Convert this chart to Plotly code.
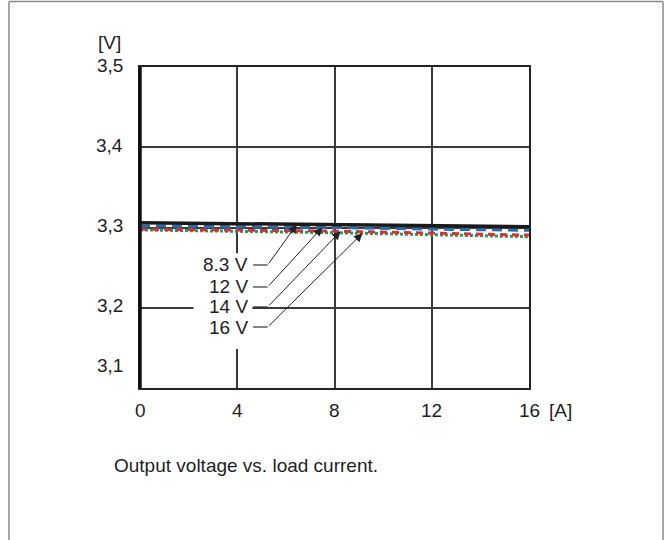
import numpy as np
import plotly.graph_objects as go

# ---- data ----
current_A = [0, 4, 8, 12, 16]
v_83 = [3.306, 3.305, 3.303, 3.302, 3.301]
v_12 = [3.302, 3.301, 3.300, 3.298, 3.2965]
v_14 = [3.298, 3.297, 3.2955, 3.293, 3.2905]
v_16 = [3.297, 3.2955, 3.2935, 3.291, 3.2885]

series_names = ["8.3 V", "12 V", "14 V", "16 V"]
x_ticks = [0, 4, 8, 12, 16]
x_tick_labels = ["0", "4", "8", "12", "16"]
y_ticks = [3.1, 3.2, 3.3, 3.4, 3.5]
y_tick_labels = ["3,1", "3,2", "3,3", "3,4", "3,5"]
arrow_tip_x = [6.45, 7.5, 8.25, 9.15]
label_y = [3.2533, 3.2259, 3.2010, 3.1760]

W, H = 665, 540
L, R, T, B = 140, 529, 67, 388  # plot area in page pixels
FONT = "Liberation Sans, Arial, Helvetica, sans-serif"
FS = 19
TXT = "#1e1e1e"


def px(xp):
    return (xp - L) / (R - L)


def py(yp):
    return (B - yp) / (B - T)


fig = go.Figure()

series = [v_83, v_12, v_14, v_16]
styles = [
    dict(color="#1a1a1a", width=3.5, dash="solid"),
    dict(color="#1f6fb8", width=3, dash="10px,6px"),
    dict(color="#e52b2b", width=3, dash="7px,5px"),
    dict(color="#1aa058", width=3, dash="3px,2px"),
]
order = [3, 2, 1, 0]
for i in order:
    fig.add_trace(go.Scatter(x=current_A, y=series[i], mode="lines",
                             line=styles[i], name=series_names[i],
                             hoverinfo="skip"))

shapes = []
annotations = []

# white box behind labels
shapes.append(dict(type="rect", xref="x", yref="y", x0=2.2, x1=4.62,
                   y0=3.1486, y1=3.268, fillcolor="white",
                   line=dict(width=0), layer="between"))

# labels, leader segments, arrows
for i, name in enumerate(series_names):
    ly = label_y[i]
    annotations.append(dict(x=4.52, y=ly, xref="x", yref="y", text=name,
                            showarrow=False, xanchor="right", yanchor="middle",
                            font=dict(family=FONT, size=FS, color=TXT)))
    shapes.append(dict(type="line", xref="x", yref="y", x0=4.65, x1=5.25,
                       y0=ly, y1=ly, line=dict(color="#333", width=1.2),
                       layer="above"))
    tip_y = float(np.interp(arrow_tip_x[i], current_A, series[i]))
    annotations.append(dict(x=arrow_tip_x[i], y=tip_y, xref="x", yref="y",
                            ax=5.25, ay=ly, axref="x", ayref="y", text="",
                            showarrow=True, arrowhead=2, arrowsize=1.7,
                            arrowwidth=1, arrowcolor="#222", standoff=0))

# thick left axis
shapes.append(dict(type="line", xref="paper", yref="paper", x0=0, x1=0,
                   y0=0, y1=1, line=dict(color="#111", width=3.5),
                   layer="above"))

# outer frame (left, top, right edges)
frame_line = dict(color="#8a8a8a", width=1.5)
shapes.append(dict(type="line", xref="paper", yref="paper",
                   x0=px(9), x1=px(9), y0=py(540), y1=py(1.5),
                   line=frame_line, layer="below"))
shapes.append(dict(type="line", xref="paper", yref="paper",
                   x0=px(9), x1=px(663), y0=py(1.5), y1=py(1.5),
                   line=frame_line, layer="below"))
shapes.append(dict(type="line", xref="paper", yref="paper",
                   x0=px(663), x1=px(663), y0=py(540), y1=py(1.5),
                   line=frame_line, layer="below"))

# tick labels
for v, t in zip(x_ticks, x_tick_labels):
    annotations.append(dict(x=v, y=py(411), xref="x", yref="paper", text=t,
                            showarrow=False, xanchor="center",
                            yanchor="middle",
                            font=dict(family=FONT, size=FS, color=TXT)))
for v, t in zip(y_ticks, y_tick_labels):
    annotations.append(dict(x=px(125), y=v, xref="paper", yref="y", text=t,
                            showarrow=False, xanchor="right",
                            yanchor="middle",
                            yshift=23 if v == y_ticks[0] else 2,
                            font=dict(family=FONT, size=FS, color=TXT)))

annotations.append(dict(x=px(560), y=py(411), xref="paper", yref="paper",
                        text="[A]", showarrow=False, xanchor="center",
                        yanchor="middle",
                        font=dict(family=FONT, size=FS, color=TXT)))
annotations.append(dict(x=px(109), y=py(42), xref="paper", yref="paper",
                        text="[V]", showarrow=False, xanchor="center",
                        yanchor="middle",
                        font=dict(family=FONT, size=FS, color=TXT)))
annotations.append(dict(x=px(112), y=py(465), xref="paper", yref="paper",
                        text="Output voltage vs. load current.",
                        showarrow=False, xanchor="left", yanchor="middle",
                        font=dict(family=FONT, size=FS, color=TXT)))

fig.update_layout(
    width=W, height=H,
    margin=dict(l=L, r=W - R, t=T, b=H - B, pad=0),
    paper_bgcolor="white", plot_bgcolor="white",
    showlegend=False,
    shapes=shapes, annotations=annotations,
    xaxis=dict(range=[0, 16], tickvals=x_ticks, showticklabels=False,
               ticks="", showgrid=True, gridcolor="#3a3a3a", gridwidth=1.5,
               zeroline=False, showline=True, linecolor="#222", linewidth=2,
               mirror=True, fixedrange=True),
    yaxis=dict(range=[3.1, 3.5], tickvals=y_ticks, showticklabels=False,
               ticks="", showgrid=True, gridcolor="#3a3a3a", gridwidth=1.5,
               zeroline=False, showline=True, linecolor="#222", linewidth=2,
               mirror=True, fixedrange=True),
)

fig.write_html("out.html", config={"displayModeBar": False},
               post_script="document.body.style.margin='0';"
                           "document.body.style.overflow='hidden';")
